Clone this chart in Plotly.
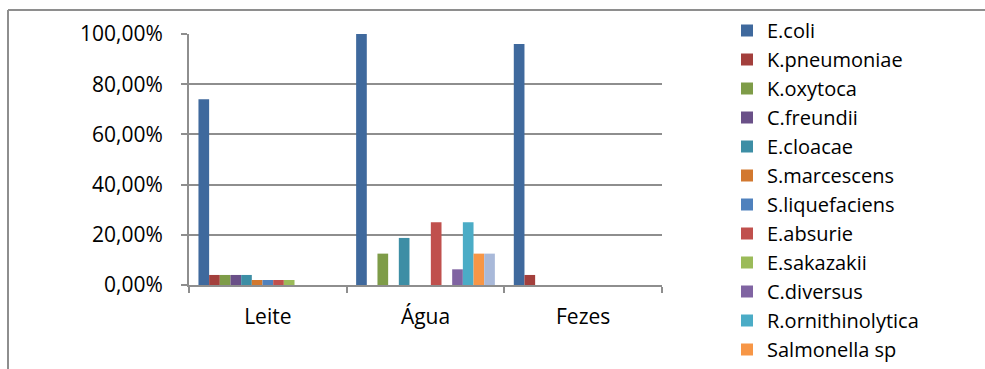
import plotly.graph_objects as go

# Sample sources (x-axis categories)
categories = ["Leite", "Água", "Fezes"]

# Bacterial species, in drawing order
species = [
    "E.coli", "K.pneumoniae", "K.oxytoca", "C.freundii", "E.cloacae",
    "S.marcescens", "S.liquefaciens", "E.absurie", "E.sakazakii",
    "C.diversus", "R.ornithinolytica", "Salmonella sp", "Outros",
]

# Frequency (%) of each species per source
leite = [74.0, 4.0, 4.0, 4.0, 4.0, 2.0, 2.0, 2.0, 2.0, 0.0, 0.0, 0.0, 0.0]
agua = [100.0, 0.0, 12.5, 0.0, 18.75, 0.0, 0.0, 25.0, 0.0, 6.25, 25.0, 12.5, 12.5]
fezes = [96.0, 4.0, 0.0, 0.0, 0.0, 0.0, 0.0, 0.0, 0.0, 0.0, 0.0, 0.0, 0.0]

# Y-axis tick values (fractions, shown as percentages)
y_ticks = [0.0, 0.2, 0.4, 0.6, 0.8, 1.0]

colors = [
    "#3F699D", "#A33F3C", "#7E9C48", "#6A5088", "#3D8EA5", "#D2782F",
    "#4F81BD", "#C0504D", "#9BBB59", "#8064A2", "#4BACC6", "#F79646",
    "#A9B9D9",
]

FONT = "Open Sans"
FS = 21
GRID = "#8E8E8E"

fig = go.Figure()
for i, name in enumerate(species):
    vals = [leite[i] / 100, agua[i] / 100, fezes[i] / 100]
    fig.add_trace(go.Bar(
        x=categories,
        y=vals,
        name=name,
        marker=dict(color=colors[i], line=dict(width=0)),
        showlegend=(i < 12),
    ))

W, H = 985, 369
L, R, T, B = 189, 323, 34, 84
pw, ph = W - L - R, H - T - B

def px_x(p):
    return (p - L) / pw

def px_y(p):
    return (H - B - p) / ph

fig.update_layout(
    width=W,
    height=H,
    margin=dict(l=L, r=R, t=T, b=B, pad=0),
    barmode="group",
    bargap=0.12,
    bargroupgap=0,
    separators=",.",
    paper_bgcolor="white",
    plot_bgcolor="white",
    font=dict(family=FONT, size=FS, color="#000000"),
    legend=dict(
        x=px_x(727),
        y=px_y(24),
        xanchor="left",
        yanchor="top",
        font=dict(family=FONT, size=20, color="#000000"),
        itemwidth=30,
        tracegroupgap=0,
        maxheight=420,
        bgcolor="rgba(0,0,0,0)",
        borderwidth=0,
    ),
    xaxis=dict(
        showline=True,
        linecolor=GRID,
        linewidth=2,
        ticks="outside",
        tickson="boundaries",
        ticklen=6,
        tickcolor=GRID,
        tickwidth=2,
        showgrid=False,
        ticklabelstandoff=12,
        tickfont=dict(family=FONT, size=FS),
    ),
    yaxis=dict(
        range=[0, 1.0],
        tickvals=y_ticks,
        tickformat=".2%",
        showline=True,
        linecolor=GRID,
        linewidth=2,
        ticks="outside",
        ticklen=6,
        tickcolor=GRID,
        tickwidth=2,
        showgrid=True,
        gridcolor=GRID,
        gridwidth=2,
        zeroline=False,
        ticklabelstandoff=14,
        tickfont=dict(family=FONT, size=FS),
    ),
    shapes=[
        # chart frame: left and top edges
        dict(type="line", xref="paper", yref="paper",
             x0=px_x(8), x1=px_x(8), y0=px_y(10), y1=px_y(380),
             line=dict(color=GRID, width=2)),
        dict(type="line", xref="paper", yref="paper",
             x0=px_x(8), x1=px_x(1000), y0=px_y(10), y1=px_y(10),
             line=dict(color=GRID, width=2)),
    ],
)

fig.write_html("out.html")
